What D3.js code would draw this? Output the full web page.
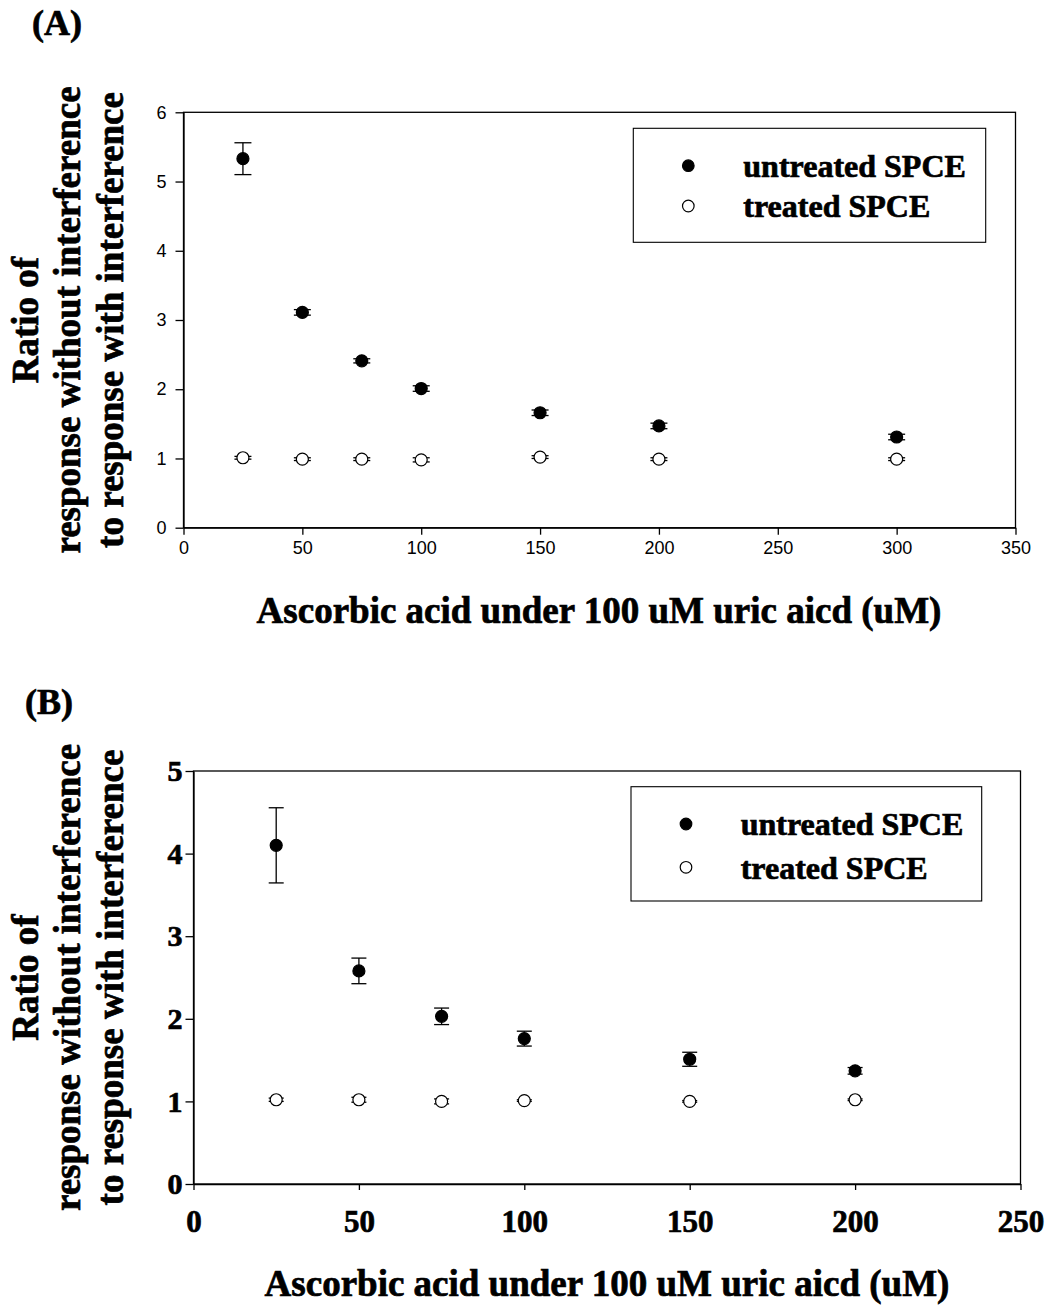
<!DOCTYPE html>
<html>
<head>
<meta charset="utf-8">
<script src="https://cdn.jsdelivr.net/npm/d3@7/dist/d3.min.js"></script>
<style>
  html, body { margin: 0; padding: 0; background: #fff; }
  svg { display: block; }
</style>
</head>
<body>
<svg id="fig" width="1047" height="1306"></svg>
<script>
// Panel (A): ascorbic acid concentrations and response ratios
const concA = [25, 50, 75, 100, 150, 200, 300];
const untreatedA = [5.33, 3.11, 2.41, 2.01, 1.66, 1.47, 1.31];
const untreatedErrA = [0.23, 0.04, 0.03, 0.04, 0.04, 0.04, 0.04];
const treatedA = [1.01, 0.99, 0.99, 0.98, 1.02, 0.99, 0.99];
const treatedErrA = [0.02, 0.02, 0.02, 0.03, 0.02, 0.02, 0.02];
const xTicksA = [0, 50, 100, 150, 200, 250, 300, 350];
const yTicksA = [0, 1, 2, 3, 4, 5, 6];

// Panel (B)
const concB = [25, 50, 75, 100, 150, 200];
const untreatedB = [4.10, 2.58, 2.03, 1.76, 1.51, 1.37];
const untreatedErrB = [0.455, 0.155, 0.10, 0.09, 0.085, 0.04];
const treatedB = [1.02, 1.02, 1.00, 1.01, 1.00, 1.02];
const treatedErrB = [0.02, 0.03, 0.03, 0.01, 0.01, 0.01];
const xTicksB = [0, 50, 100, 150, 200, 250];
const yTicksB = [0, 1, 2, 3, 4, 5];

const seriesNames = ["untreated SPCE", "treated SPCE"];
const yTitleLines = ["Ratio of", "response without interference", "to response with interference"];
const xTitle = "Ascorbic acid under 100 uM uric aicd (uM)";

const SERIF = "'Liberation Serif', 'Times New Roman', Times, serif";
const SANS = "'Liberation Sans', Arial, Helvetica, sans-serif";
const HEAVY = 0.7; // extra stroke to give the serif bold text its heavy look

const svg = d3.select("#fig");

function heavyText(sel, size) {
  return sel.attr("font-family", SERIF).attr("font-weight", "bold").attr("font-size", size)
    .attr("fill", "#000").attr("stroke", "#000").attr("stroke-width", HEAVY);
}

function drawPanel(cfg) {
  const g = svg.append("g");
  const x = d3.scaleLinear().domain(cfg.xDomain).range([cfg.left, cfg.right]);
  const y = d3.scaleLinear().domain(cfg.yDomain).range([cfg.bottom, cfg.top]);

  // frame
  g.append("rect")
    .attr("x", cfg.left).attr("y", cfg.top)
    .attr("width", cfg.right - cfg.left).attr("height", cfg.bottom - cfg.top)
    .attr("fill", "none").attr("stroke", "#000").attr("stroke-width", 1.3);

  // axes
  const xAxis = g.append("g")
    .attr("transform", `translate(0,${cfg.bottom})`)
    .call(d3.axisBottom(x).tickValues(cfg.xTicks).tickFormat(d3.format("d"))
      .tickSize(cfg.xTickLen).tickSizeOuter(0).tickPadding(cfg.xPad));
  const yAxis = g.append("g")
    .attr("transform", `translate(${cfg.left},0)`)
    .call(d3.axisLeft(y).tickValues(cfg.yTicks).tickFormat(d3.format("d"))
      .tickSize(cfg.yTickLen).tickSizeOuter(0).tickPadding(cfg.yPad));
  [xAxis, yAxis].forEach(a => {
    a.select(".domain").attr("stroke", "#000").attr("stroke-width", 1.3);
    a.selectAll(".tick line").attr("stroke", "#000").attr("stroke-width", 1.3);
  });
  [[xAxis, cfg.xTickSize], [yAxis, cfg.yTickSize]].forEach(([a, size]) => {
    const t = a.selectAll(".tick text");
    if (cfg.tickBold) heavyText(t, size);
    else t.attr("font-family", SANS).attr("font-size", size).attr("fill", "#000");
  });

  // error bars
  function errorBars(xs, ys, es) {
    const eg = g.append("g").attr("stroke", "#000").attr("stroke-width", 1.3);
    xs.forEach((cx, i) => {
      const px = x(cx), lo = y(ys[i] - es[i]), hi = y(ys[i] + es[i]);
      eg.append("line").attr("x1", px).attr("x2", px).attr("y1", lo).attr("y2", hi);
      eg.append("line").attr("x1", px - cfg.cap).attr("x2", px + cfg.cap).attr("y1", lo).attr("y2", lo);
      eg.append("line").attr("x1", px - cfg.cap).attr("x2", px + cfg.cap).attr("y1", hi).attr("y2", hi);
    });
  }
  errorBars(cfg.conc, cfg.untreated, cfg.untreatedErr);
  errorBars(cfg.conc, cfg.treated, cfg.treatedErr);

  // markers
  g.append("g").selectAll("circle").data(cfg.conc.map((c, i) => [c, cfg.untreated[i]]))
    .join("circle")
    .attr("cx", d => x(d[0])).attr("cy", d => y(d[1])).attr("r", 6)
    .attr("fill", "#000").attr("stroke", "#000").attr("stroke-width", 1.2);
  g.append("g").selectAll("circle").data(cfg.conc.map((c, i) => [c, cfg.treated[i]]))
    .join("circle")
    .attr("cx", d => x(d[0])).attr("cy", d => y(d[1])).attr("r", 6)
    .attr("fill", "#fff").attr("stroke", "#000").attr("stroke-width", 1.2);

  // legend
  const L = cfg.legend;
  g.append("rect")
    .attr("x", L.x0).attr("y", L.y0).attr("width", L.x1 - L.x0).attr("height", L.y1 - L.y0)
    .attr("fill", "#fff").attr("stroke", "#000").attr("stroke-width", 1.1);
  seriesNames.forEach((name, i) => {
    const cy = L.rows[i];
    g.append("circle").attr("cx", L.mx).attr("cy", cy).attr("r", 5.8)
      .attr("fill", i === 0 ? "#000" : "#fff").attr("stroke", "#000").attr("stroke-width", 1.2);
    heavyText(g.append("text").attr("x", L.tx).attr("y", cy).attr("dy", "0.35em"), 32).text(name);
  });

  // axis titles
  heavyText(g.append("text")
    .attr("x", cfg.xTitleCenter).attr("y", cfg.xTitleY)
    .attr("text-anchor", "middle"), 37).text(xTitle);

  const cy = (cfg.top + cfg.bottom) / 2;
  const baseX = [38, 80, 123];
  yTitleLines.forEach((line, i) => {
    heavyText(g.append("text")
      .attr("transform", `translate(${baseX[i]},${cy}) rotate(-90)`)
      .attr("text-anchor", "middle"), 37).text(line);
  });

  // panel label
  heavyText(g.append("text").attr("x", cfg.labelX).attr("y", cfg.labelY), 36).text(cfg.label);
}

drawPanel({
  label: "(A)", labelX: 32, labelY: 35,
  xDomain: [0, 350], yDomain: [0, 6],
  left: 183.5, right: 1015.5, top: 112.3, bottom: 527.7,
  xTicks: xTicksA, yTicks: yTicksA,
  xTickLen: 7, yTickLen: 8, xPad: 7, yPad: 9,
  tickBold: false, xTickSize: 18, yTickSize: 18,
  conc: concA, untreated: untreatedA, untreatedErr: untreatedErrA,
  treated: treatedA, treatedErr: treatedErrA, cap: 8.5,
  legend: { x0: 633.3, x1: 985.7, y0: 128.3, y1: 242.3, mx: 688.3, tx: 743.3, rows: [165.7, 206] },
  xTitleCenter: 599, xTitleY: 623
});

drawPanel({
  label: "(B)", labelX: 25, labelY: 714,
  xDomain: [0, 250], yDomain: [0, 5],
  left: 193.5, right: 1020.5, top: 771, bottom: 1184,
  xTicks: xTicksB, yTicks: yTicksB,
  xTickLen: 6, yTickLen: 8, xPad: 20, yPad: 3,
  tickBold: true, xTickSize: 31, yTickSize: 30,
  conc: concB, untreated: untreatedB, untreatedErr: untreatedErrB,
  treated: treatedB, treatedErr: treatedErrB, cap: 7.5,
  legend: { x0: 631, x1: 981.7, y0: 786.7, y1: 901, mx: 686, tx: 740.7, rows: [824, 867.3] },
  xTitleCenter: 607, xTitleY: 1296
});
</script>
</body>
</html>
